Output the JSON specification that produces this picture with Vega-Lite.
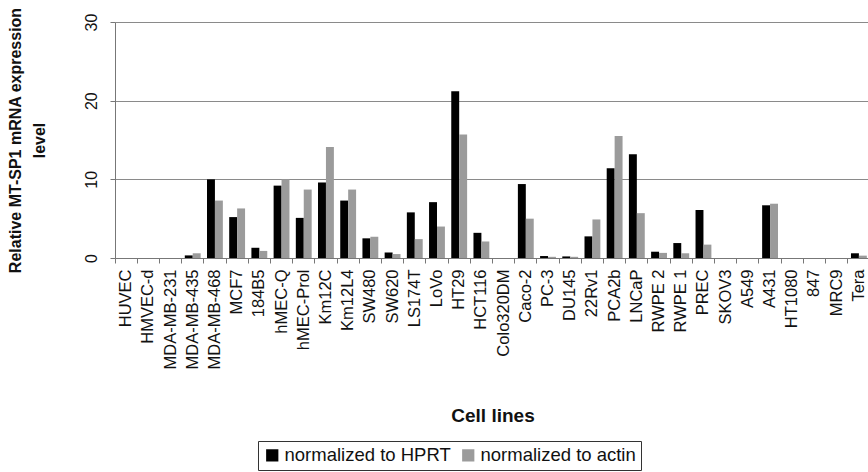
{
  "$schema": "https://vega.github.io/schema/vega-lite/v6.json",
  "autosize": {"type": "none"},
  "padding": {"left": 115, "top": 22, "right": 0, "bottom": 214},
  "width": 755,
  "height": 236,
  "background": "white",
  "config": {
    "font": "Liberation Sans",
    "view": {"stroke": null},
    "axis": {"labelColor": "#111", "titleColor": "#111", "labelFont": "Liberation Sans", "titleFont": "Liberation Sans"}
  },
  "data": {
    "values": [
      {"cell": "HUVEC", "series": "normalized to HPRT", "value": 0},
      {"cell": "HUVEC", "series": "normalized to actin", "value": 0},
      {"cell": "HMVEC-d", "series": "normalized to HPRT", "value": 0},
      {"cell": "HMVEC-d", "series": "normalized to actin", "value": 0},
      {"cell": "MDA-MB-231", "series": "normalized to HPRT", "value": 0},
      {"cell": "MDA-MB-231", "series": "normalized to actin", "value": 0},
      {"cell": "MDA-MB-435", "series": "normalized to HPRT", "value": 0.33},
      {"cell": "MDA-MB-435", "series": "normalized to actin", "value": 0.6},
      {"cell": "MDA-MB-468", "series": "normalized to HPRT", "value": 10.0},
      {"cell": "MDA-MB-468", "series": "normalized to actin", "value": 7.3},
      {"cell": "MCF7", "series": "normalized to HPRT", "value": 5.2},
      {"cell": "MCF7", "series": "normalized to actin", "value": 6.3},
      {"cell": "184B5", "series": "normalized to HPRT", "value": 1.3},
      {"cell": "184B5", "series": "normalized to actin", "value": 0.9},
      {"cell": "hMEC-Q", "series": "normalized to HPRT", "value": 9.2},
      {"cell": "hMEC-Q", "series": "normalized to actin", "value": 10.0},
      {"cell": "hMEC-Prol", "series": "normalized to HPRT", "value": 5.1},
      {"cell": "hMEC-Prol", "series": "normalized to actin", "value": 8.7},
      {"cell": "Km12C", "series": "normalized to HPRT", "value": 9.6},
      {"cell": "Km12C", "series": "normalized to actin", "value": 14.1},
      {"cell": "Km12L4", "series": "normalized to HPRT", "value": 7.3},
      {"cell": "Km12L4", "series": "normalized to actin", "value": 8.7},
      {"cell": "SW480", "series": "normalized to HPRT", "value": 2.5},
      {"cell": "SW480", "series": "normalized to actin", "value": 2.7},
      {"cell": "SW620", "series": "normalized to HPRT", "value": 0.7},
      {"cell": "SW620", "series": "normalized to actin", "value": 0.5},
      {"cell": "LS174T", "series": "normalized to HPRT", "value": 5.8},
      {"cell": "LS174T", "series": "normalized to actin", "value": 2.4},
      {"cell": "LoVo", "series": "normalized to HPRT", "value": 7.1},
      {"cell": "LoVo", "series": "normalized to actin", "value": 4.0},
      {"cell": "HT29", "series": "normalized to HPRT", "value": 21.2},
      {"cell": "HT29", "series": "normalized to actin", "value": 15.7},
      {"cell": "HCT116", "series": "normalized to HPRT", "value": 3.2},
      {"cell": "HCT116", "series": "normalized to actin", "value": 2.1},
      {"cell": "Colo320DM", "series": "normalized to HPRT", "value": 0},
      {"cell": "Colo320DM", "series": "normalized to actin", "value": 0},
      {"cell": "Caco-2", "series": "normalized to HPRT", "value": 9.4},
      {"cell": "Caco-2", "series": "normalized to actin", "value": 5.0},
      {"cell": "PC-3", "series": "normalized to HPRT", "value": 0.25},
      {"cell": "PC-3", "series": "normalized to actin", "value": 0.15},
      {"cell": "DU145", "series": "normalized to HPRT", "value": 0.2},
      {"cell": "DU145", "series": "normalized to actin", "value": 0.15},
      {"cell": "22Rv1", "series": "normalized to HPRT", "value": 2.75},
      {"cell": "22Rv1", "series": "normalized to actin", "value": 4.9},
      {"cell": "PCA2b", "series": "normalized to HPRT", "value": 11.4},
      {"cell": "PCA2b", "series": "normalized to actin", "value": 15.5},
      {"cell": "LNCaP", "series": "normalized to HPRT", "value": 13.2},
      {"cell": "LNCaP", "series": "normalized to actin", "value": 5.7},
      {"cell": "RWPE 2", "series": "normalized to HPRT", "value": 0.8},
      {"cell": "RWPE 2", "series": "normalized to actin", "value": 0.65},
      {"cell": "RWPE 1", "series": "normalized to HPRT", "value": 1.9},
      {"cell": "RWPE 1", "series": "normalized to actin", "value": 0.6},
      {"cell": "PREC", "series": "normalized to HPRT", "value": 6.1},
      {"cell": "PREC", "series": "normalized to actin", "value": 1.7},
      {"cell": "SKOV3", "series": "normalized to HPRT", "value": 0},
      {"cell": "SKOV3", "series": "normalized to actin", "value": 0},
      {"cell": "A549", "series": "normalized to HPRT", "value": 0},
      {"cell": "A549", "series": "normalized to actin", "value": 0},
      {"cell": "A431", "series": "normalized to HPRT", "value": 6.7},
      {"cell": "A431", "series": "normalized to actin", "value": 6.9},
      {"cell": "HT1080", "series": "normalized to HPRT", "value": 0},
      {"cell": "HT1080", "series": "normalized to actin", "value": 0},
      {"cell": "847", "series": "normalized to HPRT", "value": 0},
      {"cell": "847", "series": "normalized to actin", "value": 0},
      {"cell": "MRC9", "series": "normalized to HPRT", "value": 0},
      {"cell": "MRC9", "series": "normalized to actin", "value": 0},
      {"cell": "Tera", "series": "normalized to HPRT", "value": 0.6},
      {"cell": "Tera", "series": "normalized to actin", "value": 0.3}
    ]
  },
  "mark": {"type": "bar"},
  "encoding": {
    "x": {
      "field": "cell",
      "type": "nominal",
      "sort": null,
      "scale": {"paddingInner": 0, "paddingOuter": 0},
      "axis": {
        "title": "Cell lines",
        "titleFontSize": 19,
        "titleFontWeight": "bold",
        "titlePadding": 38,
        "labelAngle": -90,
        "labelFontSize": 16.5,
        "labelPadding": 6,
        "tickSize": 5,
        "tickColor": "#777",
        "domainColor": "#777",
        "bandPosition": 0
      }
    },
    "xOffset": {
      "field": "series",
      "type": "nominal",
      "sort": ["normalized to HPRT", "normalized to actin"],
      "scale": {"paddingOuter": 0.4, "paddingInner": 0}
    },
    "y": {
      "field": "value",
      "type": "quantitative",
      "scale": {"domain": [0, 30], "nice": false},
      "axis": {
        "title": ["Relative MT-SP1 mRNA expression", "level"],
        "titleFontSize": 16,
        "titleFontWeight": "bold",
        "titleLineHeight": 24,
        "titlePadding": 36,
        "values": [0, 10, 20, 30],
        "labelAngle": -90,
        "labelAlign": "center",
        "labelBaseline": "bottom",
        "labelFontSize": 16,
        "labelPadding": 11,
        "tickSize": 5,
        "tickColor": "#777",
        "domainColor": "#777",
        "grid": true,
        "gridColor": "#8a8a8a",
        "gridWidth": 1
      }
    },
    "color": {
      "field": "series",
      "type": "nominal",
      "sort": ["normalized to HPRT", "normalized to actin"],
      "scale": {"range": ["#000000", "#9b9b9b"]},
      "legend": {
        "title": null,
        "orient": "none",
        "direction": "horizontal",
        "legendX": 143,
        "legendY": 419,
        "labelFontSize": 18.5,
        "labelLimit": 400,
        "labelColor": "#111",
        "labelFont": "Liberation Sans",
        "symbolType": "square",
        "symbolSize": 150,
        "symbolStrokeWidth": 0,
        "symbolOpacity": 1,
        "labelOffset": 3,
        "columnPadding": 8,
        "padding": 5,
        "strokeColor": "#333",
        "fillColor": "white"
      }
    }
  }
}
